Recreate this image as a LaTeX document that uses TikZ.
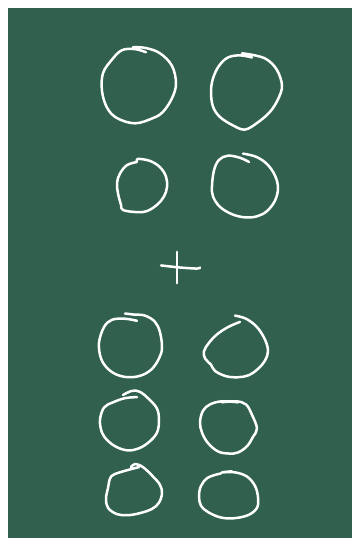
\documentclass[tikz,border=0pt]{standalone}
\definecolor{board}{RGB}{49,96,78}
\tikzset{chalk/.style={draw=white,line width=2.5pt,line cap=round,line join=round}}
\begin{document}
\begin{tikzpicture}[x=1pt,y=-1pt]
\useasboundingbox (0,0) rectangle (355,546);
\fill[white] (0,0) rectangle (355,546);
\fill[board] (8,8) rectangle (352,538);
\begin{scope}[yscale=1.045]
% row 1
\draw[chalk] plot[smooth,tension=0.6] coordinates {(146,50) (135,47) (122,48) (112,57) (103,70) (102,87) (107,103) (117,113) (135,118) (153,113) (163,107) (172,94) (176,80) (172,63) (160,51) (146,46) (133,45)};
\draw[chalk] plot[smooth,tension=0.6] coordinates {(252,55) (240,53) (228,55) (219,63) (213,75) (211,88) (213,102) (220,112) (233,120) (245,124) (258,117) (270,107) (278,95) (282,82) (277,67) (267,57) (255,53) (242,51)};
% row 2
\draw[chalk] plot[smooth,tension=0.6] coordinates {(137,154) (138,152) (150,154) (160,160) (166,169) (167,179) (164,188) (157,196) (147,202) (137,203) (123,201) (121,196) (118,185) (117,175) (120,166) (127,158) (137,155)};
\draw[chalk] plot[smooth,tension=0.6] coordinates {(249,155) (240,151) (228,149) (219,153) (214,163) (212,178) (213,188) (220,198) (232,205) (245,208) (257,207) (267,202) (275,192) (278,180) (275,168) (267,157) (256,150) (243,147)};
% plus
\draw[chalk] (177,241) -- (177,271);
\draw[chalk] plot[smooth,tension=0.5] coordinates {(161,254) (180,256) (197,257) (200,256)};
% row 3
\draw[chalk] plot[smooth,tension=0.6] coordinates {(137,307) (125,305) (112,306) (104,313) (99,328) (101,343) (108,353) (118,359) (130,361) (142,359) (152,353) (159,343) (162,333) (160,318) (155,308) (145,302) (134,301) (125,300)};
\draw[chalk] plot[smooth,tension=0.6] coordinates {(240,308) (228,313) (217,320) (209,328) (204,336) (205,343) (211,349) (215,355) (226,360) (238,361) (249,359) (258,353) (265,345) (268,336) (265,325) (257,313) (246,305) (235,302)};
% row 4
\draw[chalk] plot[smooth,tension=0.6] coordinates {(137,380) (125,381) (113,385) (104,390) (100,402) (102,414) (108,422) (117,428) (128,431) (139,429) (149,423) (157,414) (159,402) (157,391) (149,382) (140,375) (132,374) (123,378)};
\draw[chalk] plot[smooth,tension=0.6] coordinates {(222,385) (236,384) (246,387) (252,397) (257,410) (253,418) (247,427) (238,433) (229,434) (218,432) (208,424) (202,414) (200,404) (203,393) (210,387) (222,384) (238,385)};
% row 5
\draw[chalk] plot[smooth,tension=0.6] coordinates {(139,447) (127,450) (114,454) (110,458) (108,467) (106,477) (108,486) (117,492) (128,493) (140,491) (152,487) (159,481) (162,472) (160,464) (153,456) (143,447) (135,444) (131,447)};
\draw[chalk] plot[smooth,tension=0.6] coordinates {(221,453) (208,457) (201,465) (199,475) (201,484) (208,490) (220,495) (233,496) (248,493) (257,486) (258,476) (255,465) (247,456) (235,452) (222,452) (232,451)};
\end{scope}
\end{tikzpicture}
\end{document}
